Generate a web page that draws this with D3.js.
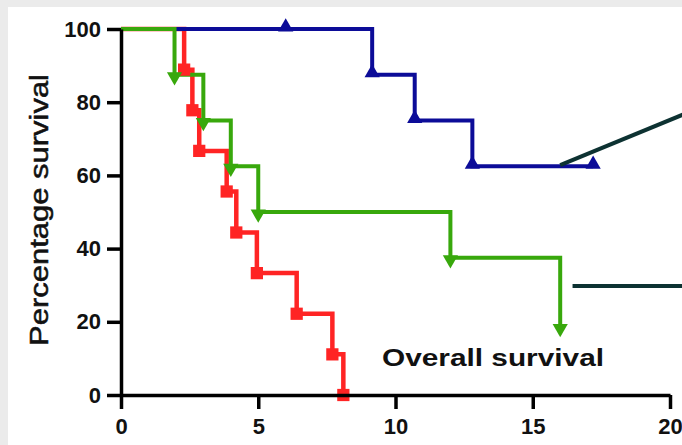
<!DOCTYPE html>
<html><head><meta charset="utf-8">
<script src="https://cdn.jsdelivr.net/npm/d3@7"></script>
<style>body{margin:0;background:#ebebeb;}svg{display:block;}</style>
</head><body>
<svg id="c" width="682" height="445"></svg>
<script>
// ---- data ----
const xTicks = [0, 5, 10, 15, 20];
const yTicks = [0, 20, 40, 60, 80, 100];
const yLabel = "Percentage survival";
const noteText = "Overall survival";

const blueTimes = [0, 9.15, 10.7, 12.8, 17.2];
const blueVals  = [100, 87.5, 75, 62.5, 62.5];
const blueMarkT = [6, 9.15, 10.7, 12.8, 17.2];
const blueMarkV = [100, 87.5, 75, 62.5, 62.5];

const greenTimes = [0, 1.95, 3.0, 4.0, 5.0, 12.0, 16.0];
const greenVals  = [100, 87.5, 75, 62.5, 50, 37.5, 18.75];

const redTimes = [0, 2.3, 2.6, 2.85, 3.85, 4.2, 4.95, 6.4, 7.7, 8.1];
const redVals  = [100, 88.9, 77.8, 66.7, 55.6, 44.4, 33.3, 22.2, 11.1, 0];

// annotation pointer lines (data units)
const pointerA = [[16.0, 62.8], [20.6, 77.0]];
const pointerB = [[16.45, 29.8], [20.6, 29.8]];

// ---- drawing ----
const svg = d3.select("#c");
svg.append("rect").attr("x", 8).attr("y", 7).attr("width", 682).attr("height", 445).attr("fill", "#fff");

const x = d3.scaleLinear().domain([0, 20]).range([121, 670]);
const y = d3.scaleLinear().domain([0, 100]).range([395, 29]);

const font = "'Liberation Sans', Arial, sans-serif";

const zip = (a, b) => a.map((v, i) => [v, b[i]]);
const line = d3.line().x(d => x(d[0])).y(d => y(d[1])).curve(d3.curveStepAfter);

const RED = "#ff2424", BLUE = "#0c0c98", GREEN = "#38a80c";

svg.append("path").datum(zip(redTimes, redVals)).attr("d", line)
  .attr("fill", "none").attr("stroke", RED).attr("stroke-width", 4.5);
svg.append("path").datum(zip(blueTimes, blueVals)).attr("d", line)
  .attr("fill", "none").attr("stroke", BLUE).attr("stroke-width", 4);
svg.append("path").datum(zip(greenTimes, greenVals)).attr("d", line)
  .attr("fill", "none").attr("stroke", GREEN).attr("stroke-width", 4);

// markers
const sq = d3.symbol().type(d3.symbolSquare).size(150);
const tri = d3.symbol().type(d3.symbolTriangle).size(100);

svg.selectAll(".rm").data(zip(redTimes, redVals).slice(1)).join("path")
  .attr("d", sq).attr("fill", RED)
  .attr("transform", d => `translate(${x(d[0])},${y(d[1])})`);
svg.selectAll(".bm").data(zip(blueMarkT, blueMarkV)).join("path")
  .attr("d", tri).attr("fill", BLUE)
  .attr("transform", d => `translate(${x(d[0])},${y(d[1]) - 2})`);
svg.selectAll(".gm").data(zip(greenTimes, greenVals).slice(1)).join("path")
  .attr("d", tri).attr("fill", GREEN)
  .attr("transform", d => `translate(${x(d[0])},${y(d[1]) + 2}) rotate(180)`);

// axes
const gx = svg.append("g").attr("transform", `translate(0,${y(0)})`)
  .call(d3.axisBottom(x).tickValues(xTicks).tickSize(14).tickSizeOuter(0).tickPadding(9));
const gy = svg.append("g").attr("transform", `translate(${x(0)},0)`)
  .call(d3.axisLeft(y).tickValues(yTicks).tickSize(14).tickSizeOuter(0).tickPadding(6));
[gx, gy].forEach(g => {
  g.select(".domain").attr("stroke", "#000").attr("stroke-width", 3.5);
  g.selectAll(".tick line").attr("stroke", "#000").attr("stroke-width", 3.5);
  g.selectAll(".tick text").attr("fill", "#111").attr("font-family", font)
    .attr("font-size", 22).attr("font-weight", "bold");
});

// y label
svg.append("text").attr("transform", "translate(48,210) rotate(-90)")
  .attr("text-anchor", "middle").attr("font-family", font).attr("font-size", 25)
  .attr("fill", "#111").attr("stroke", "#111").attr("stroke-width", 0.5)
  .attr("textLength", 272).attr("lengthAdjust", "spacingAndGlyphs")
  .text(yLabel);

// note
svg.append("text").attr("x", 382).attr("y", 366)
  .attr("font-family", font).attr("font-size", 24).attr("font-weight", "bold")
  .attr("fill", "#111").attr("textLength", 222).attr("lengthAdjust", "spacingAndGlyphs")
  .text(noteText);

// pointer lines
[pointerA, pointerB].forEach(p => {
  svg.append("line").attr("x1", x(p[0][0])).attr("y1", y(p[0][1]))
    .attr("x2", x(p[1][0])).attr("y2", y(p[1][1]))
    .attr("stroke", "#0d3232").attr("stroke-width", 4);
});
</script>
</body></html>
